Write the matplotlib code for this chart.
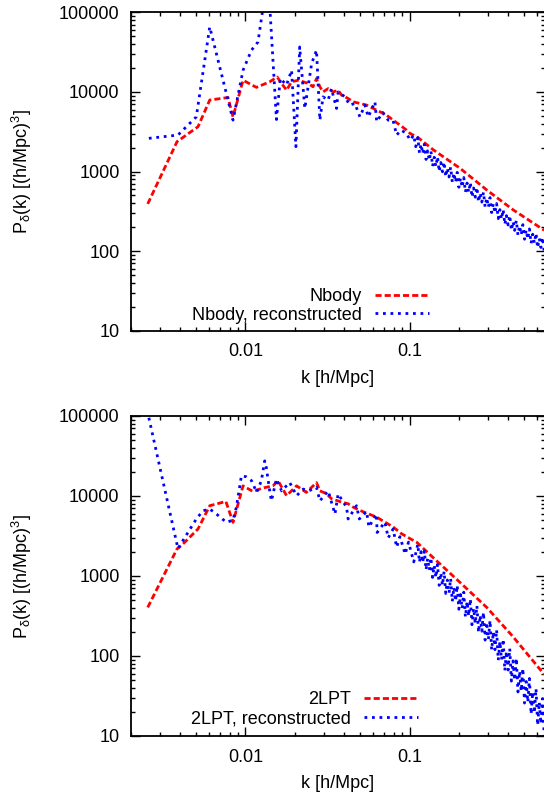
import matplotlib
matplotlib.use("Agg")
import matplotlib.pyplot as plt
from matplotlib.ticker import LogLocator, NullFormatter, FixedLocator, FixedFormatter

plt.rcParams['font.family'] = ['Liberation Sans', 'DejaVu Sans']
plt.rcParams['mathtext.fontset'] = 'custom'
plt.rcParams['mathtext.rm'] = 'Liberation Sans'
plt.rcParams['mathtext.it'] = 'Liberation Sans'
plt.rcParams['font.size'] = 13

# ---- data (k in h/Mpc, P in (Mpc/h)^3) ----
# shared k grid for the dense high-k part of the reconstructed spectra
k_band = [0.1122, 0.1148, 0.1175, 0.1202, 0.1230, 0.1259, 0.1288, 0.1318, 0.1349, 0.1380,
          0.1413, 0.1445, 0.1479, 0.1514, 0.1549, 0.1585, 0.1622, 0.1660, 0.1698, 0.1738,
          0.1778, 0.1820, 0.1862, 0.1905, 0.1950, 0.1995, 0.2042, 0.2089, 0.2138, 0.2188,
          0.2239, 0.2291, 0.2344, 0.2399, 0.2455, 0.2512, 0.2570, 0.2630, 0.2692, 0.2754,
          0.2818, 0.2884, 0.2951, 0.3020, 0.3090, 0.3162, 0.3236, 0.3311, 0.3388, 0.3467,
          0.3548, 0.3631, 0.3715, 0.3802, 0.3890, 0.3981, 0.4074, 0.4169, 0.4266, 0.4365,
          0.4467, 0.4571, 0.4677, 0.4786, 0.4898, 0.5012, 0.5129, 0.5248, 0.5370, 0.5495,
          0.5623, 0.5754, 0.5888, 0.6026, 0.6166, 0.6310, 0.6457, 0.6607]

# top panel: Nbody
k_nbody = [0.00254, 0.00383, 0.00514, 0.00606, 0.00783, 0.0084, 0.00967, 0.01167,
           0.01406, 0.0156, 0.0166, 0.0178, 0.0191, 0.0209, 0.0225, 0.0241, 0.0258,
           0.0271, 0.0284, 0.0297, 0.0319, 0.0342, 0.0367, 0.0385, 0.0422, 0.0453,
           0.0498, 0.0547, 0.060, 0.0659, 0.0724, 0.0794, 0.0873, 0.0959, 0.1006,
           0.113, 0.139, 0.203, 0.295, 0.428, 0.66]
p_nbody = [392, 2370, 3650, 7900, 8500, 4860, 14000, 11400,
           13400, 15400, 12800, 10500, 13400, 14000, 13400, 12800, 11600,
           14700, 11600, 10000, 11000, 10000, 10500, 9100, 8270, 7500,
           7160, 6830, 6200, 5630, 5100, 4420, 3830, 3310, 3010,
           2650, 1880, 1097, 586, 329, 183]

k_nbody_rec_low = [0.00258, 0.00388, 0.00502, 0.00606, 0.0084, 0.00967, 0.01088, 0.01193,
                   0.0137, 0.01545, 0.0163, 0.0178, 0.0191, 0.0203, 0.0214, 0.0230,
                   0.0253, 0.0271, 0.0284, 0.0297, 0.0319, 0.0334, 0.0359, 0.0367,
                   0.0404, 0.0432, 0.0464, 0.0498, 0.0534, 0.0560, 0.0615, 0.0630,
                   0.0687, 0.0741, 0.0792, 0.0834, 0.0886, 0.0959, 0.1006, 0.106, 0.109]
p_nbody_rec_low = [2610, 2870, 4860, 65400, 4420, 18700, 33400, 42500,
                   300000, 4500, 14700, 12200, 18700, 2050, 36700, 6200,
                   22700, 33400, 4420, 8670, 7880, 11000, 6200, 10000,
                   8670, 6830, 7160, 4860, 6830, 4860, 7500, 4230,
                   5500, 4420, 4420, 2870, 3310, 3010, 2480, 2870, 2050]
p_nbody_rec_band = [2667, 1718, 2208, 1671, 2198, 1416, 1820, 1377, 1811, 1164,
                    1510, 1153, 1535, 998, 1297, 993, 1318, 859, 1114, 853,
                    1135, 738, 959, 733, 975, 634, 824, 632, 841, 550,
                    716, 548, 731, 476, 621, 476, 634, 414, 538, 413,
                    551, 359, 468, 356, 470, 305, 394, 300, 396, 256,
                    332, 252, 334, 216, 279, 213, 281, 182, 236, 182,
                    243, 159, 208, 160, 215, 141, 184, 142, 190, 125,
                    163, 126, 168, 110, 144, 111, 149, 97.5]

# bottom panel: 2LPT
k_2lpt = [0.00254, 0.00383, 0.00407, 0.00514, 0.00606, 0.0076, 0.0084, 0.00967,
          0.0111, 0.0128, 0.0147, 0.0158, 0.0178, 0.0205, 0.0235, 0.0271, 0.0284,
          0.0312, 0.0334, 0.0385, 0.0422, 0.0453, 0.0498, 0.0559, 0.0629, 0.0707,
          0.0794, 0.0892, 0.1006, 0.1103, 0.139, 0.203, 0.295, 0.428, 0.66]
p_2lpt = [405, 2180, 2400, 3870, 7560, 8550, 4680, 13400,
          11400, 12600, 13400, 15500, 10100, 13400, 11100, 14700, 11600,
          10700, 9250, 8390, 8000, 7260, 6600, 6000, 5450, 4720,
          4090, 3380, 2930, 2650, 1700, 830, 405, 173, 59]

k_2lpt_rec_low = [0.00258, 0.00388, 0.00502, 0.00551, 0.00606, 0.00666, 0.00766, 0.0084,
                  0.00881, 0.00945, 0.0101, 0.0109, 0.0117, 0.0125, 0.0131, 0.0134,
                  0.0141, 0.0144, 0.01545, 0.0166, 0.0186, 0.0205, 0.0225, 0.0243,
                  0.0271, 0.0284, 0.0319, 0.0351, 0.0367, 0.0413, 0.0422, 0.0475,
                  0.0494, 0.0547, 0.0565, 0.0628, 0.0634, 0.0707, 0.0741, 0.0794,
                  0.0834, 0.0873, 0.0940, 0.0985, 0.106]
p_2lpt_rec_low = [95000, 2200, 5160, 6540, 6870, 5950, 4680, 5000,
                  7260, 17900, 17400, 15500, 11100, 15500, 27500, 22700,
                  11100, 8700, 16300, 11600, 14750, 10100, 12200, 11600,
                  12800, 8700, 11600, 5950, 10600, 7260, 5160, 7560,
                  5160, 6400, 4090, 5950, 3500, 4720, 3000, 3870,
                  2290, 3100, 1880, 2650, 1500]
p_2lpt_rec_band = [2495, 1486, 2014, 1469, 2056, 1194, 1652, 1183, 1698, 959,
                   1352, 953, 1396, 764, 1096, 762, 1143, 605, 891, 610,
                   933, 482, 724, 486, 764, 384, 587, 391, 628, 307,
                   481, 315, 518, 246, 394, 254, 427, 197, 324, 204,
                   352, 158, 264, 161, 279, 119, 200, 120, 213, 88.5,
                   152, 89.7, 163, 65.5, 115, 66.8, 124, 48.5, 86.9, 49.8,
                   93.8, 35.5, 64.6, 36.3, 70.1, 25.8, 48.0, 26.5, 52.4, 18.7,
                   35.6, 19.4, 39.2, 13.6, 26.5, 14.2, 29.3, 9.9]

yticks = [10, 100, 1000, 10000, 100000]
ytick_labels = ['10', '100', '1000', '10000', '100000']
xticks = [0.01, 0.1]
xtick_labels = ['0.01', '0.1']

panels = [
    (k_nbody, p_nbody, k_nbody_rec_low + k_band, p_nbody_rec_low + p_nbody_rec_band,
     'Nbody', 'Nbody, reconstructed', (0.7207, 0.022)),
    (k_2lpt, p_2lpt, k_2lpt_rec_low + k_band, p_2lpt_rec_low + p_2lpt_rec_band,
     '2LPT', '2LPT, reconstructed', (0.694, 0.028)),
]

fig = plt.figure(figsize=(5.44, 7.93), dpi=100)
W, H = 544.0, 793.0
x0, x1 = 130.7, 545.0
boxes = [(12.3, 330.7), (416.0, 736.0)]

ylabel = r'P$_{\mathrm{\delta}}$(k) [(h/Mpc)$^{3}$]'

for (kr, pr, kb, pb, lab_r, lab_b, leg_pos), (ytop, ybot) in zip(panels, boxes):
    ax = fig.add_axes([x0 / W, 1 - ybot / H, (x1 - x0) / W, (ybot - ytop) / H])
    ax.plot(kr, pr, color='#ff0000', lw=2.0, linestyle=(0, (2.2, 1.1)), label=lab_r)
    ax.plot(kb, pb, color='#0000ff', lw=2.0, linestyle=(0, (1.0, 1.7)), label=lab_b)
    ax.set_xscale('log')
    ax.set_yscale('log')
    ax.set_xlim(0.002, 0.668)
    ax.set_ylim(10, 100000)

    ax.yaxis.set_major_locator(FixedLocator(yticks))
    ax.yaxis.set_major_formatter(FixedFormatter(ytick_labels))
    ax.yaxis.set_minor_locator(LogLocator(base=10, subs=range(2, 10)))
    ax.yaxis.set_minor_formatter(NullFormatter())
    ax.xaxis.set_major_locator(FixedLocator(xticks))
    ax.xaxis.set_major_formatter(FixedFormatter(xtick_labels))
    ax.xaxis.set_minor_locator(LogLocator(base=10, subs=range(2, 10)))
    ax.xaxis.set_minor_formatter(NullFormatter())

    ax.tick_params(which='both', direction='in', top=True, right=True, width=1.0)
    ax.tick_params(which='major', length=6.5)
    ax.tick_params(which='minor', length=3.2)
    ax.tick_params(axis='y', which='major', pad=8, labelsize=13)
    ax.tick_params(axis='x', which='major', pad=9, labelsize=13)
    for sp in ax.spines.values():
        sp.set_linewidth(1.3)

    ax.set_xlabel('k [h/Mpc]', fontsize=13, labelpad=7)
    yc = 1 - (ytop + ybot) / 2 / H
    fig.text(22 / W, yc, ylabel, rotation=90, ha='center', va='center', fontsize=13)

    ax.legend(loc='lower right', bbox_to_anchor=leg_pos, frameon=False,
              markerfirst=False, borderpad=0, borderaxespad=0,
              handlelength=3.0, handletextpad=0.75, labelspacing=0.1, fontsize=13)

plt.savefig('out.png', dpi=100)
